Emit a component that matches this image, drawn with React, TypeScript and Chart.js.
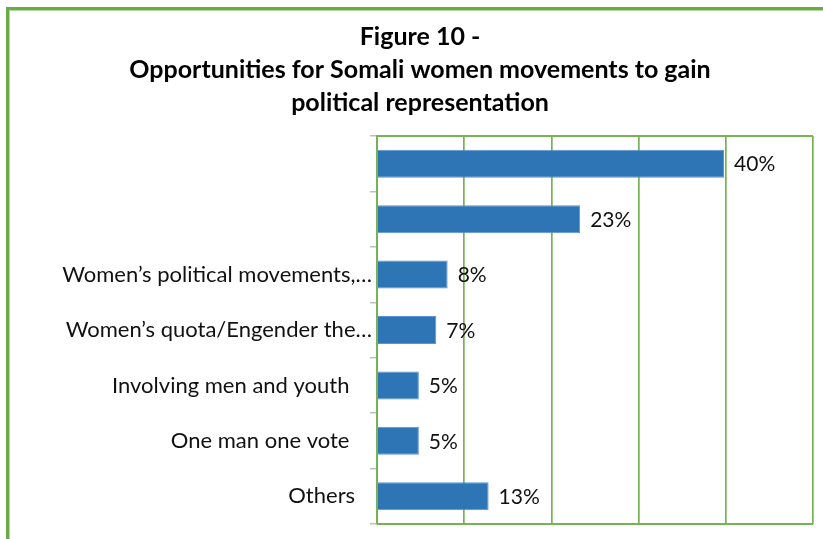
import React, { useEffect, useRef } from 'react';
import { Chart, registerables } from 'chart.js';

Chart.register(...registerables);

const titleLines = ['Figure 10 -', 'Opportunities for Somali women movements to gain', 'political representation'];
const categories = [
  '',
  '',
  'Women’s political movements,…',
  'Women’s quota/Engender the…',
  'Involving men and youth    ',
  'One man one vote    ',
  'Others   ',
];
const values = [39.8, 23.3, 8.1, 6.8, 4.8, 4.8, 12.8];
const valueLabels = ['40%', '23%', '8%', '7%', '5%', '5%', '13%'];
const axisMin = 0;
const axisMax = 50;
const axisStep = 10;

const FONT = 'Lato, "Open Sans", sans-serif';
const GREEN = '#77B255';

const frame = {
  id: 'frame',
  beforeDraw(chart: any) {
    const { ctx, width, height } = chart;
    ctx.save();
    ctx.fillStyle = '#ffffff';
    ctx.fillRect(0, 0, width, height);
    ctx.strokeStyle = '#6AAB45';
    ctx.lineWidth = 3;
    ctx.strokeRect(7.5, 8.5, width + 50, height + 50);
    ctx.strokeStyle = '#B7D8A2';
    ctx.lineWidth = 1;
    ctx.strokeRect(9.5, 10.5, width + 50, height + 50);
    ctx.restore();
  },
  afterDraw(chart: any) {
    const { ctx, chartArea } = chart;
    ctx.save();
    ctx.strokeStyle = GREEN;
    ctx.lineWidth = 2;
    ctx.beginPath();
    ctx.moveTo(chartArea.left, chartArea.top);
    ctx.lineTo(chartArea.right, chartArea.top);
    ctx.moveTo(chartArea.left, chartArea.bottom);
    ctx.lineTo(chartArea.right, chartArea.bottom);
    ctx.stroke();
    ctx.restore();
  },
};

const barLabels = {
  id: 'barLabels',
  afterDatasetsDraw(chart: any) {
    const { ctx } = chart;
    const meta = chart.getDatasetMeta(0);
    ctx.save();
    ctx.font = `21px ${FONT}`;
    ctx.fillStyle = '#111111';
    ctx.textAlign = 'left';
    ctx.textBaseline = 'middle';
    meta.data.forEach((bar: any, i: number) => {
      ctx.fillText(valueLabels[i], bar.x + 10, bar.y + 1);
    });
    ctx.restore();
  },
};

export default function App() {
  const ref = useRef<HTMLCanvasElement>(null);
  useEffect(() => {
    document.body.style.margin = '0';
    if (!ref.current) return;
    const chart = new Chart(ref.current, {
      type: 'bar',
      data: {
        labels: categories,
        datasets: [
          {
            data: values,
            backgroundColor: '#2E75B6',
            borderColor: '#5B93CC',
            borderWidth: 1,
            categoryPercentage: 1,
            barPercentage: 0.505,
          },
        ],
      },
      options: {
        indexAxis: 'y',
        animation: false,
        responsive: false,
        layout: { padding: { left: 27, right: 10, top: 5, bottom: 15 } },
        plugins: {
          legend: { display: false },
          tooltip: { enabled: false },
          title: {
            display: true,
            text: titleLines,
            color: '#000',
            font: { family: FONT, size: 25, weight: 'bold', lineHeight: 1.32 },
            padding: { top: 15.5, bottom: 16.5 },
          },
        },
        scales: {
          x: {
            min: axisMin,
            max: axisMax,
            ticks: { display: false, stepSize: axisStep },
            grid: { color: GREEN, lineWidth: 1.7, drawTicks: false },
            border: { display: false },
          },
          y: {
            ticks: { color: '#111111', font: { family: FONT, size: 22 }, padding: -2, autoSkip: false },
            grid: { drawOnChartArea: false, drawTicks: true, tickLength: 7, color: '#BFBFBF', lineWidth: 1.5 },
            border: { color: GREEN, width: 2 },
            afterFit: (scale: any) => {
              scale.width = 350;
            },
          },
        },
      },
      plugins: [frame, barLabels],
    });
    return () => chart.destroy();
  }, []);
  return <canvas ref={ref} width={823} height={539} style={{ display: 'block' }} />;
}
